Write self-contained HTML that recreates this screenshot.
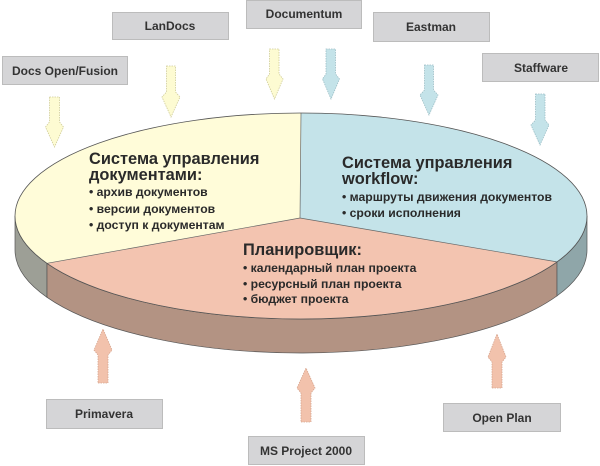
<!DOCTYPE html>
<html>
<head>
<meta charset="utf-8">
<style>
html,body{margin:0;padding:0;background:#fff;}
svg{display:block;}
text{font-family:"Liberation Sans","DejaVu Sans",sans-serif;font-weight:bold;fill:#2a2a2a;}
.lbl{font-size:12px;fill:#333;}
.t{font-size:16.4px;}
.b{font-size:12.2px;}
.box{fill:#d5d5d7;stroke:#bcbcbc;stroke-width:1;}
</style>
</head>
<body>
<svg width="600" height="466" viewBox="0 0 600 466" xmlns="http://www.w3.org/2000/svg">
  <!-- Side of pie -->
  <path d="M15,216 A286,103 0 0 0 47,263.3 L47,297.3 A286,103 0 0 1 15,250 Z" fill="#9d9f96" stroke="#555" stroke-width="0.7"/>
  <path d="M47,263.3 A286,103 0 0 0 557,261.9 L557,295.9 A286,103 0 0 1 47,297.3 Z" fill="#b39383" stroke="#555" stroke-width="0.7"/>
  <path d="M557,261.9 A286,103 0 0 0 587,216 L587,250 A286,103 0 0 1 557,295.9 Z" fill="#8fa6a9" stroke="#555" stroke-width="0.7"/>

  <!-- Top face wedges -->
  <path d="M300,218 L47,263.3 A286,103 0 0 0 557,261.9 Z" fill="#f3c4b0"/>
  <path d="M300,218 L301,113 A286,103 0 0 0 47,263.3 Z" fill="#fffcd9"/>
  <path d="M300,218 L301,113 A286,103 0 0 1 557,261.9 Z" fill="#c4e3e9"/>
  <path d="M47,263.3 L300,218 L557,261.9 M300,218 L301,113" fill="none" stroke="#666" stroke-width="0.7"/>
  <ellipse cx="301" cy="216" rx="286" ry="103" fill="none" stroke="#555" stroke-width="0.8"/>

  <!-- Top boxes -->
  <rect class="box" x="2.5" y="56.5" width="125" height="28"/>
  <text class="lbl" x="65" y="75" text-anchor="middle">Docs Open/Fusion</text>
  <rect class="box" x="112.5" y="12.5" width="116" height="27"/>
  <text class="lbl" x="170" y="30" text-anchor="middle">LanDocs</text>
  <rect class="box" x="246.5" y="0.5" width="115" height="28"/>
  <text class="lbl" x="304" y="18" text-anchor="middle">Documentum</text>
  <rect class="box" x="373.5" y="12.5" width="116" height="29"/>
  <text class="lbl" x="431" y="31" text-anchor="middle">Eastman</text>
  <rect class="box" x="482.5" y="53.5" width="116" height="28"/>
  <text class="lbl" x="541" y="72" text-anchor="middle">Staffware</text>

  <!-- Bottom boxes -->
  <rect class="box" x="46.5" y="399.5" width="116" height="29"/>
  <text class="lbl" x="104" y="418" text-anchor="middle">Primavera</text>
  <rect class="box" x="248.5" y="436.5" width="116" height="28"/>
  <text class="lbl" x="306" y="455" text-anchor="middle">MS Project 2000</text>
  <rect class="box" x="443.5" y="403.5" width="117" height="28"/>
  <text class="lbl" x="502" y="422" text-anchor="middle">Open Plan</text>

  <!-- Down arrows (yellow) -->
  <g fill="#fdfbd2" stroke="#cfcc9a" stroke-width="0.8" stroke-dasharray="1.5,1">
    <path d="M49.5,97 L59.5,97 L59.5,122 L63.5,127 L54.5,147 L45.5,127 L49.5,122 Z"/>
    <path d="M166.5,66 L175.5,66 L175.5,92 L180,97 L171,117 L162,97 L166.5,92 Z"/>
    <path d="M269.5,49 L279,49 L279,74 L283,79 L274.5,99 L266,79 L269.5,74 Z"/>
  </g>
  <!-- Down arrows (blue) -->
  <g fill="#c4e3e9" stroke="#9dbfc6" stroke-width="0.8" stroke-dasharray="1.5,1">
    <path d="M326,49 L335.5,49 L335.5,74 L339.5,79 L331,99 L322.5,79 L326,74 Z"/>
    <path d="M424.5,65 L433.5,65 L433.5,90 L438,95 L429,115 L420,95 L424.5,90 Z"/>
    <path d="M535.5,94 L545,94 L545,120 L549,125 L540,145 L531,125 L535.5,120 Z"/>
  </g>
  <!-- Up arrows (pink) -->
  <g fill="#f2c2ac" stroke="#d6a690" stroke-width="0.8" stroke-dasharray="1.5,1">
    <path d="M98,383 L108,383 L108,355 L112,350 L103,329 L94,350 L98,355 Z"/>
    <path d="M301,422 L311,422 L311,393 L315,388 L306,368 L297,388 L301,393 Z"/>
    <path d="M492,388 L502,388 L502,362 L506,357 L497,334 L488,357 L492,362 Z"/>
  </g>

  <!-- Documents section text -->
  <text class="t" x="89" y="164">Система управления</text>
  <text class="t" x="89" y="180">документами:</text>
  <text class="b" x="89" y="196">• архив документов</text>
  <text class="b" x="89" y="213">• версии документов</text>
  <text class="b" x="89" y="229">• доступ к документам</text>

  <!-- Workflow section text -->
  <text class="t" x="342" y="168">Система управления</text>
  <text class="t" x="342" y="184">workflow:</text>
  <text class="b" x="342" y="201">• маршруты движения документов</text>
  <text class="b" x="342" y="217">• сроки исполнения</text>

  <!-- Planner section text -->
  <text class="t" x="243" y="255">Планировщик:</text>
  <text class="b" x="243" y="272">• календарный план проекта</text>
  <text class="b" x="243" y="288">• ресурсный план проекта</text>
  <text class="b" x="243" y="303">• бюджет проекта</text>
</svg>
</body>
</html>
